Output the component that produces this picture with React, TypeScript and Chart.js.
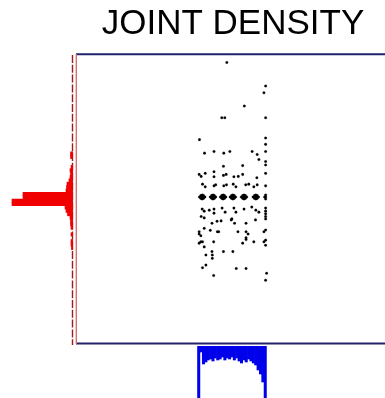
import React, { useEffect, useRef } from "react";
import { Chart, registerables } from "chart.js";

Chart.register(...registerables);

const TITLE = "JOINT DENSITY";
const X_MIN = -4.6;
const X_MAX = 4.65;
const Y_MIN = -4.3;
const Y_MAX = 4.3;

// Scatter sample (x values)
const scatterX = [
  -0.13, 1.02, 0.97, 0.39, -0.28, -0.19, 1.02, 1.02, -0.94, 1.02,
  -0.79, -0.51, -0.22, -0.04, 0.62, 0.77, 1.02, 0.82, 1.02, 1.02,
  -0.23, 0.34, -0.95, -0.89, -0.77, -0.51, -0.51, -0.23, -0.15, 0.08,
  0.21, 0.34, 0.76, 1.02, -0.85, -0.77, -0.51, -0.46, -0.22, -0.14,
  0.06, 0.14, 0.43, 0.52, 0.67, 0.77, 1.02,
  -0.86, -0.8, -0.65, -0.51, -0.51, -0.27, -0.18, 0.08, 0.14, 0.38,
  0.61, 0.73, 0.82, 1.02, 1.02, 1.02, -0.8, 0.02,
  -0.89, 1.02, 1.02, -0.57, -0.42, -0.3, 0.0, 0.1, 0.44, 0.72,
  -0.8, -0.62, -0.41, -0.37, 0.2, 0.44, 0.5, -0.95, -0.95, -0.9,
  1.02, 0.97, 0.44, 0.44, -0.9, -0.85, -0.95, -0.52, 0.34, 0.67,
  0.97, 1.02, -0.8, 1.02, -0.57, -0.23, 0.05, -0.75, -0.56, -0.56,
  -0.85, -0.75, 0.15, 0.44, 1.05, -0.52, 1.02,
  -0.94, -0.9, -0.9, -0.86, -0.86, -0.86, -0.82, -0.82, -0.78,
  -0.62, -0.58, -0.58, -0.54, -0.54, -0.54, -0.5, -0.5, -0.46,
  -0.32, -0.28, -0.28, -0.24, -0.24, -0.24, -0.2, -0.2, -0.16,
  -0.03, 0.01, 0.01, 0.05, 0.05, 0.05, 0.09, 0.09, 0.13,
  0.3, 0.34, 0.34, 0.38, 0.38, 0.38, 0.42, 0.42, 0.46,
  0.65, 0.69, 0.69, 0.73, 0.73, 0.73, 0.77, 0.77, 0.81,
  0.99, 1.02, 1.02, 1.02,
];

// Scatter sample (y values)
const scatterY = [
  4.05, 3.35, 3.15, 2.76, 2.41, 2.41, 2.41, 1.81, 1.76, 1.62,
  1.36, 1.41, 1.36, 1.41, 1.41, 1.32, 1.41, 1.17, 1.11, 1.01,
  0.97, 0.99, 0.73, 0.67, 0.76, 0.81, 0.66, 0.7, 0.73, 0.66,
  0.67, 0.73, 0.63, 0.76, 0.44, 0.36, 0.39, 0.42, 0.39, 0.42,
  0.44, 0.36, 0.42, 0.44, 0.36, 0.42, 0.39,
  -0.3, -0.36, -0.33, -0.3, -0.42, -0.27, -0.39, -0.27, -0.39, -0.3,
  -0.24, -0.33, -0.39, -0.27, -0.36, -0.44, -0.56, -0.59,
  -0.52, -0.52, -0.59, -0.72, -0.66, -0.65, -0.62, -0.72, -0.72, -0.62,
  -0.87, -0.93, -0.97, -0.97, -0.97, -0.97, -1.04, -0.97, -1.04, -1.09,
  -0.92, -0.97, -1.15, -1.2, -1.27, -1.27, -1.31, -1.27, -1.31, -1.27,
  -1.27, -1.22, -1.42, -1.37, -1.56, -1.56, -1.56, -1.66, -1.66, -1.76,
  -2.04, -1.96, -2.06, -2.06, -2.2, -2.27, -2.41,
  0.06, 0.1, 0.02, 0.12, 0.06, 0.0, 0.1, 0.02, 0.06,
  0.06, 0.1, 0.02, 0.12, 0.06, 0.0, 0.1, 0.02, 0.06,
  0.06, 0.1, 0.02, 0.12, 0.06, 0.0, 0.1, 0.02, 0.06,
  0.06, 0.1, 0.02, 0.12, 0.06, 0.0, 0.1, 0.02, 0.06,
  0.06, 0.1, 0.02, 0.12, 0.06, 0.0, 0.1, 0.02, 0.06,
  0.06, 0.1, 0.02, 0.12, 0.06, 0.0, 0.1, 0.02, 0.06,
  0.06, 0.12, 0.06, 0.0,
];

// Marginal histogram of y (red, left)
const yBinCenters = [
  1.35, 1.25, 0.95, 0.85, 0.75, 0.65, 0.55, 0.45, 0.35, 0.25,
  0.15, 0.05, -0.05, -0.15, -0.25, -0.35, -0.45, -0.55, -0.65, -0.75,
  -0.85, -1.05, -1.25, -1.35, -1.45,
];
const yBinCounts = [
  2.5, 2.5, 2, 3, 2.5, 3, 4, 6, 6.5, 7,
  50, 50, 61, 61, 8, 7, 5.5, 3, 2.5, 2.5,
  2, 2, 2, 2, 1.5,
];

// Marginal histogram of x (blue, bottom)
const xBinCenters = [
  -0.985, -0.915, -0.845, -0.775, -0.705, -0.635, -0.565, -0.495, -0.425, -0.355,
  -0.285, -0.215, -0.145, -0.075, -0.005, 0.065, 0.135, 0.205, 0.275, 0.345,
  0.415, 0.485, 0.555, 0.625, 0.695, 0.765, 0.835, 0.905, 0.975,
];
const xBinCounts = [
  60, 6, 18, 16, 14, 13, 15, 12, 14, 13,
  11, 14, 12, 13, 11, 14, 12, 15, 17, 14,
  16, 13, 15, 17, 19, 24, 28, 36, 60,
];

const framePlugin = {
  id: "frame",
  afterDraw(chart: any) {
    const { ctx, chartArea } = chart;
    const { left, right, top, bottom } = chartArea;
    ctx.save();
    // dashed marginal baseline
    ctx.strokeStyle = "#9b1c1c";
    ctx.lineWidth = 1.4;
    ctx.setLineDash([8, 1.8]);
    ctx.beginPath();
    ctx.moveTo(left - 3.5, top + 1);
    ctx.lineTo(left - 3.5, bottom + 1);
    ctx.stroke();
    ctx.setLineDash([]);
    // box
    ctx.strokeStyle = "#23236b";
    ctx.lineWidth = 2;
    ctx.beginPath();
    ctx.moveTo(left, top + 0.3);
    ctx.lineTo(right, top + 0.3);
    ctx.moveTo(left, bottom - 0.5);
    ctx.lineTo(right, bottom - 0.5);
    ctx.stroke();
    ctx.strokeStyle = "#d06a6a";
    ctx.lineWidth = 1.3;
    ctx.beginPath();
    ctx.moveTo(left + 0.3, top);
    ctx.lineTo(left + 0.3, bottom);
    ctx.stroke();
    ctx.restore();
  },
};

export default function App() {
  const mainRef = useRef<HTMLCanvasElement>(null);
  const leftRef = useRef<HTMLCanvasElement>(null);
  const bottomRef = useRef<HTMLCanvasElement>(null);

  useEffect(() => {
    const charts: Chart[] = [];
    const common = {
      responsive: false,
      animation: false as const,
      events: [] as any[],
    };

    charts.push(
      new Chart(mainRef.current!, {
        type: "scatter",
        data: {
          datasets: [
            {
              data: scatterX.map((x, i) => ({ x, y: scatterY[i] })),
              backgroundColor: "#000",
              borderColor: "rgba(0,0,0,0.35)",
              borderWidth: 0.6,
              pointRadius: 1.3,
              pointHoverRadius: 1.3,
            },
          ],
        },
        options: {
          ...common,
          layout: { padding: { left: 76, right: 0, top: 0, bottom: 54 } },
          plugins: {
            legend: { display: false },
            tooltip: { enabled: false },
            title: {
              display: true,
              text: TITLE,
              color: "#000",
              font: { family: '"Liberation Sans", Arial, sans-serif', size: 35, weight: "normal" },
              padding: { top: 3.2, bottom: 8.8 },
            },
          },
          scales: {
            x: { type: "linear", min: X_MIN, max: X_MAX, display: false, offset: false },
            y: { type: "linear", min: Y_MIN, max: Y_MAX, display: false, offset: false },
          },
        } as any,
        plugins: [framePlugin],
      })
    );

    charts.push(
      new Chart(leftRef.current!, {
        type: "bar",
        data: {
          datasets: [
            {
              data: yBinCenters.map((y, i) => ({ x: yBinCounts[i], y })),
              backgroundColor: "rgb(240,0,0)",
              borderWidth: 0,
              barPercentage: 1,
              categoryPercentage: 1,
            },
          ],
        },
        options: {
          ...common,
          indexAxis: "y",
          layout: { padding: 0 },
          plugins: { legend: { display: false }, tooltip: { enabled: false }, title: { display: false } },
          scales: {
            x: { type: "linear", min: 0, max: 73, reverse: true, display: false, offset: false },
            y: { type: "linear", min: Y_MIN, max: Y_MAX, display: false, offset: false },
          },
        } as any,
      })
    );

    charts.push(
      new Chart(bottomRef.current!, {
        type: "bar",
        data: {
          datasets: [
            {
              data: xBinCenters.map((x, i) => ({ x, y: xBinCounts[i] })),
              backgroundColor: "rgb(0,0,235)",
              borderWidth: 0,
              barPercentage: 1,
              categoryPercentage: 1,
            },
          ],
        },
        options: {
          ...common,
          layout: { padding: { left: 76, right: 0, top: 0, bottom: 0 } },
          plugins: { legend: { display: false }, tooltip: { enabled: false }, title: { display: false } },
          scales: {
            x: { type: "linear", min: X_MIN, max: X_MAX, display: false, offset: false },
            y: { type: "linear", min: 0, max: 52, reverse: true, display: false, offset: false },
          },
        } as any,
      })
    );

    return () => charts.forEach((c) => c.destroy());
  }, []);

  return (
    <div
      style={{
        position: "fixed",
        left: 0,
        top: 0,
        width: 385,
        height: 398,
        overflow: "hidden",
        background: "#fff",
      }}
    >
      <canvas ref={mainRef} width={390} height={398} style={{ position: "absolute", left: 0, top: 0 }} />
      <canvas ref={leftRef} width={73} height={290} style={{ position: "absolute", left: 0, top: 54 }} />
      <canvas ref={bottomRef} width={390} height={52} style={{ position: "absolute", left: 0, top: 346 }} />
    </div>
  );
}
